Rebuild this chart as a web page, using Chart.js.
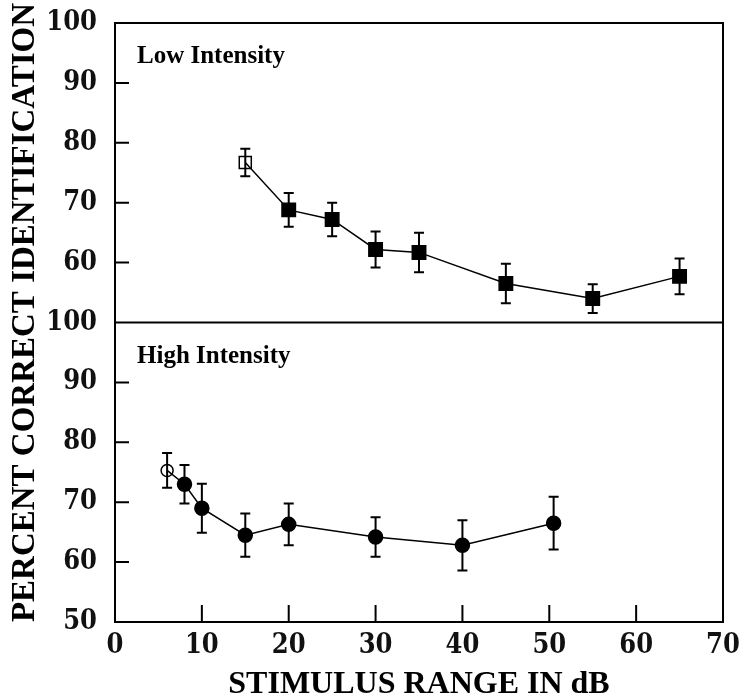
<!DOCTYPE html>
<html>
<head>
<meta charset="UTF-8">
<title>Percent correct identification</title>
<script src="https://cdn.jsdelivr.net/npm/chart.js"></script>
<style>
  html, body { margin: 0; padding: 0; background: #fff; }
  #wrap { width: 743px; height: 695px; }
</style>
</head>
<body>
<div id="wrap"><canvas id="chart" width="743" height="695"></canvas></div>
<script>
// values (stimulus range in dB, percent correct, +/- error)
var lowRange = [15, 20, 25, 30, 35, 45, 55, 65];
var lowPercent = [76.7, 68.8, 67.2, 62.2, 61.7, 56.5, 54.0, 57.7];
var lowError = [2.3, 2.8, 2.8, 3.0, 3.3, 3.3, 2.4, 3.0];
var lowOpen = [true, false, false, false, false, false, false, false];

var highRange = [6, 8, 10, 15, 20, 30, 40, 50.5];
var highPercent = [75.3, 73.0, 69.0, 64.5, 66.3, 64.2, 62.8, 66.5];
var highError = [2.9, 3.2, 4.1, 3.6, 3.5, 3.3, 4.2, 4.4];
var highOpen = [true, false, false, false, false, false, false, false];

var xTicks = [0, 10, 20, 30, 40, 50, 60, 70];
var yTicks = [50, 60, 70, 80, 90, 100];

var panelLabels = ['Low Intensity', 'High Intensity'];
var xTitle = 'STIMULUS RANGE IN dB';
var yTitle = 'PERCENT CORRECT IDENTIFICATION';

function toPoints(xs, ys) {
    return xs.map(function (x, i) { return { x: x, y: ys[i] }; });
}

var tickFont = { family: '"DejaVu Serif Condensed", "DejaVu Serif"', size: 27, weight: 'bold' };

// frame, inward ticks, error bars and titles
var decorations = {
    id: 'decorations',
    afterDatasetsDraw: function (chart) {
        var ctx = chart.ctx;
        var a = chart.chartArea;
        var sx = chart.scales.x, yt = chart.scales.yTop, yb = chart.scales.yBottom;
        ctx.save();
        ctx.strokeStyle = '#000';

        // error bars
        ctx.lineWidth = 2;
        [[lowRange, lowPercent, lowError, yt], [highRange, highPercent, highError, yb]].forEach(function (s) {
            s[0].forEach(function (xv, i) {
                var px = sx.getPixelForValue(xv);
                var top = s[3].getPixelForValue(s[1][i] + s[2][i]);
                var bot = s[3].getPixelForValue(s[1][i] - s[2][i]);
                ctx.beginPath();
                ctx.moveTo(px, top); ctx.lineTo(px, bot);
                ctx.moveTo(px - 5, top); ctx.lineTo(px + 5, top);
                ctx.moveTo(px - 5, bot); ctx.lineTo(px + 5, bot);
                ctx.stroke();
            });
        });

        // frame and panel divider
        ctx.lineWidth = 2;
        ctx.strokeRect(a.left, a.top, a.right - a.left, a.bottom - a.top);
        ctx.beginPath();
        ctx.moveTo(a.left, yt.bottom); ctx.lineTo(a.right, yt.bottom);
        ctx.stroke();

        // inward ticks
        ctx.beginPath();
        [yt, yb].forEach(function (s) {
            [60, 70, 80, 90].forEach(function (v) {
                var py = s.getPixelForValue(v);
                ctx.moveTo(a.left, py); ctx.lineTo(a.left + 14, py);
            });
        });
        xTicks.slice(1, -1).forEach(function (v) {
            var px = sx.getPixelForValue(v);
            ctx.moveTo(px, a.bottom); ctx.lineTo(px, a.bottom - 17);
        });
        ctx.stroke();

        // panel labels
        ctx.fillStyle = '#000';
        ctx.font = 'bold 25px "Liberation Serif"';
        ctx.textAlign = 'left';
        ctx.textBaseline = 'alphabetic';
        ctx.fillText(panelLabels[0], a.left + 22, yt.top + 40);
        ctx.fillText(panelLabels[1], a.left + 22, yb.top + 40);

        // axis titles
        ctx.font = 'bold 32px "Liberation Serif"';
        ctx.textAlign = 'center';
        ctx.fillText(xTitle, (a.left + a.right) / 2, 693);
        ctx.save();
        ctx.translate(25, (a.top + a.bottom) / 2 - 10);
        ctx.rotate(-Math.PI / 2);
        ctx.font = 'bold 33px "Liberation Serif"';
        ctx.textBaseline = 'middle';
        ctx.fillText(yTitle, 0, 0);
        ctx.restore();

        ctx.restore();
    }
};

function yScale(hideBottom) {
    return {
        type: 'linear',
        position: 'left',
        stack: 'panels',
        stackWeight: 1,
        min: 50,
        max: 100,
        afterBuildTicks: function (s) { s.ticks = yTicks.map(function (v) { return { value: v }; }); },
        afterFit: function (s) { s.width = 115; s.paddingTop = 0; s.paddingBottom = 0; },
        grid: { display: false, drawTicks: false },
        border: { display: false },
        ticks: {
            autoSkip: false,
            padding: 18,
            color: '#111',
            font: tickFont,
            callback: function (v) { return (hideBottom && v === 50) ? '' : v; }
        }
    };
}

new Chart(document.getElementById('chart'), {
    type: 'line',
    data: {
        datasets: [{
            label: panelLabels[0],
            yAxisID: 'yTop',
            data: toPoints(lowRange, lowPercent),
            borderColor: '#000',
            borderWidth: 1.5,
            pointStyle: 'rect',
            pointRadius: lowOpen.map(function (o) { return o ? 8.5 : 9.5; }),
            pointBorderWidth: 1.5,
            pointBorderColor: '#000',
            pointBackgroundColor: lowOpen.map(function (o) { return o ? 'rgba(255,255,255,0)' : '#000'; })
        }, {
            label: panelLabels[1],
            yAxisID: 'yBottom',
            data: toPoints(highRange, highPercent),
            borderColor: '#000',
            borderWidth: 1.5,
            pointStyle: 'circle',
            pointRadius: highOpen.map(function (o) { return o ? 6 : 7; }),
            pointBorderWidth: 1.5,
            pointBorderColor: '#000',
            pointBackgroundColor: highOpen.map(function (o) { return o ? 'rgba(255,255,255,0)' : '#000'; })
        }]
    },
    options: {
        responsive: false,
        animation: false,
        layout: { padding: { left: 0, right: 20, top: 23, bottom: 0 } },
        plugins: { legend: { display: false }, tooltip: { enabled: false } },
        scales: {
            x: {
                type: 'linear',
                min: 0,
                max: 70,
                afterBuildTicks: function (s) { s.ticks = xTicks.map(function (v) { return { value: v }; }); },
                afterFit: function (s) { s.height = 73; s.paddingLeft = 0; s.paddingRight = 0; },
                grid: { display: false, drawTicks: false },
                border: { display: false },
                ticks: { autoSkip: false, maxRotation: 0, padding: 8, color: '#111', font: tickFont }
            },
            yBottom: yScale(false),
            yTop: yScale(true)
        }
    },
    plugins: [decorations]
});
</script>
</body>
</html>
